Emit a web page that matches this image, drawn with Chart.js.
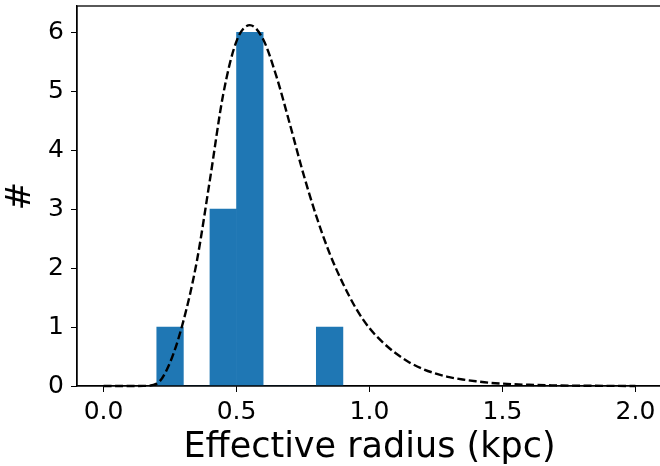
<!DOCTYPE html>
<html>
<head>
<meta charset="utf-8">
<script src="https://cdn.jsdelivr.net/npm/chart.js@4/dist/chart.umd.min.js"></script>
<style>
  html, body { margin: 0; padding: 0; background: #ffffff; overflow: hidden; width: 660px; height: 466px; }
  #wrap { position: absolute; left: 0; top: 0; width: 664px; height: 466px; }
</style>
</head>
<body>
<div id="wrap"><canvas id="c" width="664" height="466"></canvas></div>
<script>
// Histogram: bin centres (bin width 0.1 kpc) and counts
const binCenters = [0.25, 0.35, 0.45, 0.55, 0.65, 0.75, 0.85];
const binCounts  = [1, 0, 3, 6, 0, 0, 1];

// Dashed fitted curve
const fitX = [0.00, 0.05, 0.10, 0.15, 0.20, 0.25, 0.30, 0.35, 0.40, 0.45, 0.50, 0.55, 0.60, 0.65, 0.70, 0.75, 0.80, 0.85, 0.90, 0.95, 1.00, 1.05, 1.10, 1.15, 1.20, 1.25, 1.30, 1.35, 1.40, 1.45, 1.50, 1.60, 1.70, 1.80, 1.90, 2.00];
const fitY = [0.00, 0.00, 0.00, 0.002, 0.04, 0.40, 1.10, 2.10, 3.50, 4.95, 5.85, 6.12, 5.88, 5.25, 4.45, 3.62, 2.88, 2.25, 1.74, 1.31, 0.98, 0.74, 0.55, 0.40, 0.29, 0.21, 0.15, 0.11, 0.08, 0.055, 0.04, 0.02, 0.01, 0.005, 0.002, 0.001];

const xTicks = [0.0, 0.5, 1.0, 1.5, 2.0];
const yTicks = [0, 1, 2, 3, 4, 5, 6];

const xLabel = 'Effective radius (kpc)';
const yLabel = '#';

const FONT = 'DejaVu Sans';

const frame = {
  id: 'frame',
  afterDatasetsDraw(chart) {
    const a = chart.chartArea, ctx = chart.ctx;
    ctx.save();
    ctx.strokeStyle = '#000';
    ctx.lineWidth = 1.3;
    ctx.strokeRect(a.left, a.top, a.right - a.left, a.bottom - a.top);
    ctx.restore();
  }
};

new Chart(document.getElementById('c'), {
  type: 'bar',
  data: {
    datasets: [
      {
        type: 'line',
        label: 'fit',
        data: fitX.map((x, i) => ({ x: x, y: fitY[i] })),
        borderColor: '#000000',
        borderWidth: 2.4,
        borderDash: [8, 3.5],
        pointRadius: 0,
        fill: false,
        clip: 4,
        cubicInterpolationMode: 'monotone',
        order: 0
      },
      {
        type: 'bar',
        label: 'hist',
        data: binCenters.map((x, i) => ({ x: x, y: binCounts[i] })),
        backgroundColor: '#1f77b4',
        borderWidth: 0,
        barPercentage: 1.0,
        categoryPercentage: 1.0,
        grouped: false,
        order: 1
      }
    ]
  },
  options: {
    responsive: false,
    animation: false,
    devicePixelRatio: 1,
    layout: { padding: { top: 6, right: 2, left: 0, bottom: 0 } },
    plugins: { legend: { display: false }, tooltip: { enabled: false } },
    scales: {
      x: {
        type: 'linear',
        min: -0.1,
        max: 2.1,
        offset: false,
        afterFit(s) { s.height = 80; s.paddingLeft = 0; s.paddingRight = 0; },
        afterBuildTicks(s) { s.ticks = xTicks.map(v => ({ value: v })); },
        grid: { display: true, drawOnChartArea: false, drawTicks: true, tickLength: 6, color: '#000', tickWidth: 1, offset: false },
        border: { display: true, color: '#000', width: 1.3 },
        ticks: {
          autoSkip: false,
          maxRotation: 0,
          padding: 5,
          color: '#000',
          font: { family: FONT, size: 25 },
          callback: v => Number(v).toFixed(1)
        },
        title: {
          display: true,
          text: xLabel,
          color: '#000',
          font: { family: FONT, size: 35, lineHeight: 1.04 },
          padding: { top: 0, bottom: 0 }
        }
      },
      y: {
        type: 'linear',
        min: 0,
        max: 6.445,
        afterFit(s) { s.width = 77; s.paddingTop = 0; s.paddingBottom = 0; },
        afterBuildTicks(s) { s.ticks = yTicks.map(v => ({ value: v })); },
        grid: { display: true, drawOnChartArea: false, drawTicks: true, tickLength: 6, color: '#000', tickWidth: 1 },
        border: { display: true, color: '#000', width: 1.3 },
        ticks: {
          autoSkip: false,
          padding: 7,
          color: '#000',
          font: { family: FONT, size: 25 },
          callback: v => String(v)
        },
        title: {
          display: true,
          text: yLabel,
          color: '#000',
          font: { family: FONT, size: 34 },
          padding: { top: 1, bottom: 0 }
        }
      }
    }
  },
  plugins: [frame]
});
</script>
</body>
</html>
